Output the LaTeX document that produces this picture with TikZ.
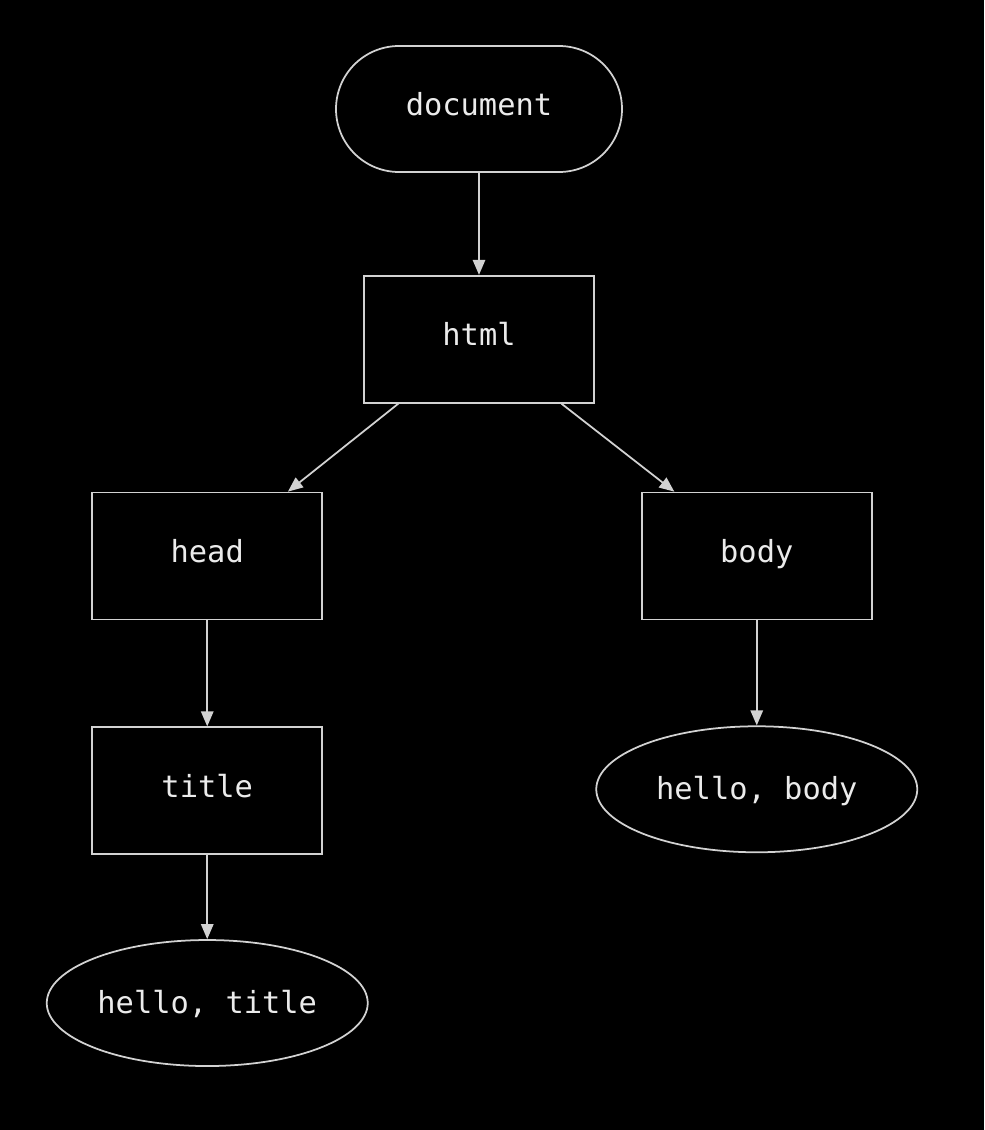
\documentclass[tikz,border=0pt]{standalone}
\usepackage{fontspec}
\setmonofont{DejaVu Sans Mono}
\usetikzlibrary{positioning,shapes.geometric,arrows.meta}
\definecolor{mybg}{RGB}{0,0,0}
\definecolor{myline}{RGB}{210,210,210}
\definecolor{mytext}{RGB}{235,235,235}

\begin{document}
\begin{tikzpicture}[node distance=2cm,
  every node/.style={text=mytext, font=\ttfamily\fontsize{17.3}{20}\selectfont, text height=0.46cm, text depth=0.2cm},
  tagbox/.style={draw=myline, line width=1pt, fill=mybg, minimum width=4.6cm, minimum height=2.54cm, inner sep=0pt},
  rootbox/.style={draw=myline, line width=1pt, fill=mybg, rounded corners=1.26cm, minimum width=5.72cm, minimum height=2.52cm, inner sep=0pt},
  textbox/.style={draw=myline, line width=1pt, fill=mybg, ellipse, minimum width=6.42cm, minimum height=2.52cm, inner sep=0pt, text depth=0.06cm},
  link/.style={draw=myline, line width=1pt, -{Triangle[width=7pt,length=8.5pt]}}]
% background and size
\fill[mybg] (0,0) rectangle (19.68,-22.6);
% Create nodes for the tree
\node[rootbox] (document) at (9.58,-2.18) {document};
\node[tagbox, below=2.04cm of document] (html) {html};
\node[tagbox, below left=1.76cm and 0.80cm of html] (head) {head};
\node[tagbox, below right=1.76cm and 0.92cm of html] (body) {body};
\node[tagbox, below=2.12cm of head] (title) {title};
\node[textbox, below=2.10cm of body] (hellobody) {hello, body};
\node[textbox, below=1.68cm of title] (hellotitle) {hello, title};

% Add connections
\draw[link] (document) -- (html);
\draw[link] (html) -- (head);
\draw[link] (html) -- (body);
\draw[link] (head) -- (title);
\draw[link] (title) -- (hellotitle);
\draw[link] (body) -- (hellobody);
\end{tikzpicture}
\end{document}
